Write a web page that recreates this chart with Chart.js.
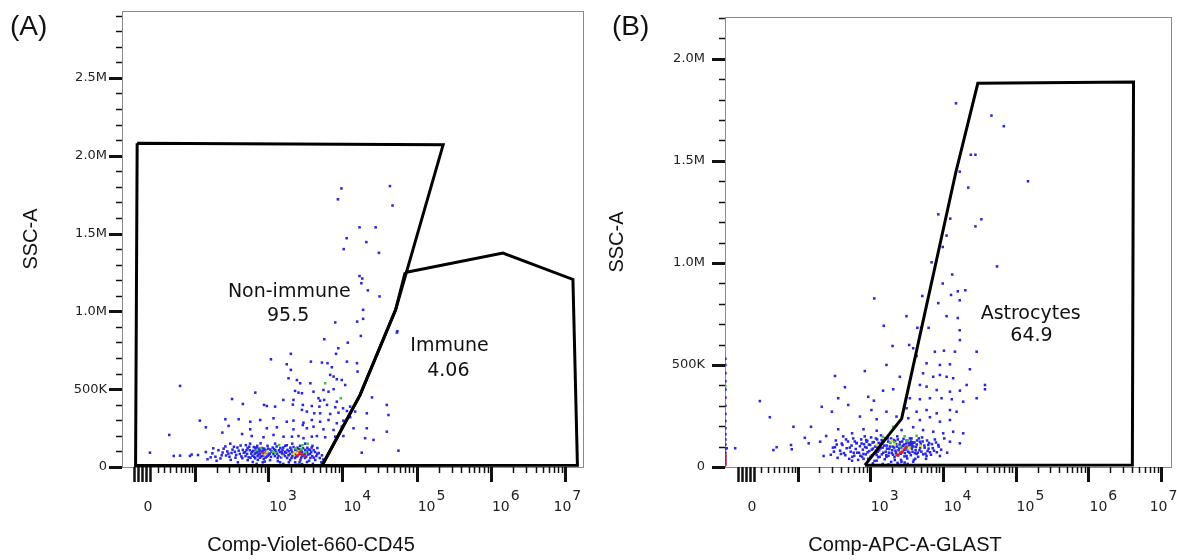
<!DOCTYPE html>
<html>
<head>
<meta charset="utf-8">
<script src="https://cdn.jsdelivr.net/npm/chart.js@4.4.1/dist/chart.umd.min.js"></script>
<style>
  body { margin: 0; background: #fff; }
  #wrap { position: relative; width: 1177px; height: 560px; }
  canvas { position: absolute; top: 0; }
  #chartA { left: 0; }
  #chartB { left: 590px; }
</style>
</head>
<body>
<div id="wrap">
  <canvas id="chartA" width="590" height="560"></canvas>
  <canvas id="chartB" width="587" height="560"></canvas>
</div>
<script>
// ---- axes ----
const xMajorTicks = [1e2, 1e3, 1e4, 1e5, 1e6, 1e7];
const xZeroTicks = [-10, -5, 0, 5, 10];
const xMinorSteps = [2, 3, 4, 5, 6, 7, 8, 9];
const xLabelExps = ['3', '4', '5', '6', '7'];
const yTicksA = [0, 500, 1000, 1500, 2000, 2500];
const yTicksB = [0, 500, 1000, 1500, 2000];

// ---- panel A: Comp-Violet-660-CD45 vs SSC-A (SSC in thousands) ----
const aBlue = [
  [9700, 1790], [43600, 1805], [8700, 1720], [47300, 1680], [17000, 1540], [28000, 1540],
  [11400, 1470], [21000, 1445], [10400, 1400], [31000, 1376], [17000, 1227], [18500, 1211],
  [18000, 1181], [22000, 1135], [31600, 1096], [19000, 1010], [19000, 952], [8000, 929],
  [15800, 934], [55000, 872],
  [5700, 821], [17700, 842], [11800, 799], [54000, 864],
  [8800, 763], [8200, 727], [2020, 727], [1090, 692], [3760, 677], [5300, 671], [6300, 667],
  [11500, 677], [15700, 667], [1780, 660], [7200, 641],
  [2020, 624], [16000, 613], [6840, 592], [7600, 581], [8400, 564], [9800, 559], [1880, 570],
  [2440, 559], [670, 478], [59, 521],
  [2700, 538], [3700, 538], [10900, 527], [2300, 489], [2560, 478], [2850, 474], [4080, 484],
  [5550, 495], [6500, 484], [7600, 500],
  [325, 437], [1600, 431], [2190, 431], [4760, 442], [5010, 426], [5680, 431], [8400, 420],
  [880, 399], [960, 392], [1240, 388], [2150, 401], [2930, 399], [3870, 392], [4900, 388],
  [6200, 399], [8000, 384], [10200, 377], [12700, 388], [456, 405],
  [2850, 367], [3320, 356], [4170, 345], [5010, 345], [6840, 341], [8850, 349], [11500, 360],
  [14860, 356], [21300, 345], [39600, 399], [41700, 334], [25000, 447],
  [117, 298], [264, 307], [400, 307], [573, 291], [780, 302], [1180, 313], [1780, 291],
  [2190, 298], [2990, 285], [3870, 302], [5010, 291], [6500, 302], [8400, 281], [10300, 298],
  [12700, 320],
  [142, 255], [292, 264], [573, 242], [960, 249], [1310, 255], [2190, 242], [2930, 270],
  [3320, 249], [4080, 259], [5550, 242], [7600, 238], [9800, 259], [14100, 249], [21300, 249],
  [39600, 227],
  [38, 206], [240, 221], [445, 212], [600, 199], [865, 191], [1180, 206], [1610, 195],
  [2090, 195], [2560, 199], [2990, 185], [3870, 195], [4530, 199], [5860, 191], [8000, 195],
  [10300, 199], [20200, 185], [26200, 174], [56800, 105], [18200, 92],
  [10, 92], [46, 71], [84, 71], [110, 77], [166, 62], [59, 73], [89, 80], [142, 96], [180, 120],
  [193, 66], [212, 108], [226, 55], [242, 93], [264, 132], [270, 74], [290, 86], [308, 150],
  [312, 46], [330, 112], [355, 98], [362, 60], [385, 125], [390, 30], [415, 84], [425, 138],
  [448, 57], [455, 110],
  [485, 95], [495, 70], [500, 140], [520, 84], [530, 44], [528, 122], [565, 108], [578, 60],
  [570, 150], [605, 98], [615, 72], [620, 32], [660, 86], [672, 124], [665, 56], [680, 110],
  [705, 95], [720, 70], [712, 136], [725, 46], [770, 84], [785, 108], [775, 60], [790, 152],
  [830, 97], [840, 72], [828, 122], [845, 30], [905, 86], [915, 110], [920, 60], [970, 95],
  [980, 136], [985, 72], [1050, 86], [1070, 112], [1060, 44], [745, 100], [880, 118], [640, 128],
  [1130, 96], [1150, 125], [1230, 70], [1250, 108], [1240, 150], [1320, 84], [1340, 58],
  [1440, 96], [1460, 122], [1450, 30], [1540, 84], [1560, 110], [1690, 70], [1700, 136],
  [1680, 98], [1800, 58], [1820, 110], [1960, 84], [1990, 124], [1970, 44],
  [2100, 96], [2120, 70], [2110, 150], [2290, 84], [2320, 110], [2300, 58], [2310, 30],
  [2460, 97], [2480, 124], [2470, 70], [2680, 84], [2700, 110], [2720, 45], [2690, 136],
  [2870, 96], [2890, 70], [2860, 18], [3130, 85], [3160, 110], [3140, 58], [3150, 150],
  [3350, 96], [3370, 124], [3340, 32], [3660, 84], [3700, 58], [3680, 110], [3920, 70],
  [3950, 136], [4280, 96], [4300, 45], [4580, 84], [4600, 122], [4950, 58], [3000, 8],
  [3300, 12], [2500, 14], [5200, 30],
  [150, 50], [175, 88], [200, 40], [235, 75], [250, 118], [280, 100], [300, 66], [320, 90],
  [345, 130], [370, 78], [400, 105], [435, 68], [470, 92], [510, 108], [545, 62], [555, 130],
  [590, 86], [630, 104], [650, 66], [690, 90], [700, 125], [740, 80], [760, 118], [800, 68],
  [815, 96], [860, 106], [870, 52], [890, 78], [940, 102], [950, 66], [1000, 118], [1020, 80],
  [1090, 65], [1110, 100], [1180, 84], [1200, 115], [1280, 96], [1300, 132], [1380, 70],
  [1400, 108], [1500, 62], [1520, 96], [1600, 125], [1620, 80], [1750, 92], [1780, 140],
  [1880, 75], [1900, 102], [2050, 110], [2060, 58], [2180, 88], [2200, 128], [2380, 66],
  [2400, 98], [2560, 82], [2580, 115], [2780, 60], [2800, 100], [2950, 120], [3000, 78],
  [3250, 66], [3250, 98], [3450, 80], [3500, 112], [3800, 95], [3850, 125], [4100, 60],
  [4100, 108], [4450, 70], [4800, 90], [5300, 75], [5500, 48], [2650, 30], [1900, 30],
  [1350, 38], [900, 35], [3550, 40], [4000, 20], [700, 20], [1600, 20]
];
const aGreen = [[5860, 538], [9500, 442], [700, 109], [1400, 141], [2350, 120], [2900, 140], [1150, 100], [3400, 150],
  [800, 120], [1250, 90], [2800, 115], [3200, 95]];
const aYellow = [[960, 98], [2600, 100], [1550, 71], [2200, 85], [2480, 92], [2300, 95], [900, 80]];
const aRed = [[2700, 88], [2500, 75], [850, 92], [3100, 70], [2650, 95], [2850, 80]];
const aGateNonImmune = [[-6, 2080], [227000, 2070], [52000, 1010], [17300, 463], [5330, 10], [-8, 10], [-6, 2080]];
const aGateImmune = [[70000, 1250], [1450000, 1375], [12700000, 1205], [14600000, 12], [5330, 10], [17300, 463], [52000, 1010], [70000, 1250]];

// ---- panel B: Comp-APC-A-GLAST vs SSC-A ----
const bBlue = [
  [15200, 1782], [46600, 1722], [68800, 1670], [24300, 1530], [28100, 1530], [17100, 1447],
  [148000, 1400], [22400, 1369], [8690, 1238], [12700, 1217], [33900, 1214], [28100, 1179],
  [11300, 1134], [10000, 1078], [7030, 1003], [55600, 983], [13500, 943], [10000, 899],
  [1150, 826], [5240, 838], [8690, 803], [13000, 843], [20400, 866], [16100, 861], [17100, 817],
  [3180, 739], [11300, 739], [16100, 730], [1550, 692], [4490, 682], [5050, 682], [6400, 682],
  [17100, 670],
  [2050, 593], [3460, 598], [3930, 582], [4380, 544], [17200, 622], [7800, 565], [10400, 570],
  [14700, 565], [29200, 565], [853, 470], [1690, 500], [6000, 508], [9150, 500], [12560, 503],
  [23600, 479], [331, 446], [2580, 442], [5380, 459], [7410, 442], [9150, 451], [11300, 442],
  [13900, 435], [21300, 402], [38000, 402], [38000, 381], [454, 391], [1520, 374], [2090, 381],
  [4860, 402], [6000, 394], [8260, 377], [12560, 369], [17200, 374], [18, 323], [367, 337],
  [950, 344], [1135, 325], [3540, 337], [4860, 332], [6670, 337], [9640, 337], [13300, 332],
  [19100, 320], [29200, 337], [217, 295], [504, 304], [1050, 279], [1690, 271], [3190, 288],
  [4380, 271], [6000, 279], [8260, 263], [12560, 279], [15500, 271], [33, 244], [300, 271],
  [730, 247], [1240, 234], [2320, 247], [3370, 239], [4860, 230], [6670, 244], [9150, 222],
  [12560, 230], [85, 197], [153, 197], [250, 152], [367, 185], [570, 165], [817, 185],
  [1240, 178], [2720, 181], [3930, 195], [5380, 181], [7410, 173], [10150, 165], [13900, 173],
  [19100, 165], [142, 116], [206, 124], [125, 143], [78, 108], [39, 83], [45, 97], [80, 87],
  [331, 97], [420, 108], [656, 116], [900, 124], [1450, 132], [2090, 132], [3730, 116],
  [4860, 124], [6340, 108], [8690, 108], [12560, 124], [17200, 116], [-26, 92], [-14, 92],
  [400, 64], [600, 70], [817, 64], [1240, 59], [1690, 50], [3190, 54], [4380, 64], [6000, 54],
  [9150, 54], [230, 54], [570, 31], [1240, 31], [2200, 34], [2720, 26], [3930, 26],
  [290, 60], [310, 95], [340, 130], [360, 45], [390, 80], [410, 115], [430, 150], [460, 58],
  [480, 92], [500, 125], [520, 40], [545, 75], [560, 105], [590, 140], [610, 55], [640, 88],
  [660, 118], [690, 35], [710, 70], [730, 102], [760, 135], [780, 50], [800, 85], [830, 112],
  [850, 150],
  [880, 62], [900, 95], [920, 128], [950, 40], [980, 78], [1010, 108], [1040, 145], [1070, 58],
  [1100, 90], [1130, 122], [1160, 30], [1200, 70], [1230, 100], [1260, 135], [1300, 48],
  [1340, 82], [1380, 115], [1420, 155], [1460, 62], [1500, 95], [1550, 128], [1600, 38],
  [1650, 75], [1700, 105], [1750, 140], [1800, 55], [1850, 88], [1900, 118], [1960, 25],
  [2000, 68], [2060, 100], [2120, 132], [2180, 48], [2250, 80], [2300, 112], [2380, 150],
  [2450, 60], [2520, 92], [2600, 122], [2680, 35], [2750, 72], [2830, 104], [2900, 138],
  [2980, 52], [3060, 85], [3150, 115], [3250, 42], [3350, 75], [3450, 105], [3550, 140],
  [3650, 58], [3780, 90], [3900, 120], [4020, 35], [4150, 68], [4300, 98], [4450, 130],
  [4600, 50], [4800, 82], [5000, 112], [5200, 145], [5400, 62], [5650, 95], [5900, 40],
  [6200, 78], [6500, 118], [6900, 60], [7300, 92], [7800, 135], [8300, 72], [8800, 100],
  [9500, 85], [10500, 140], [11500, 70],
  [3600, 112], [3700, 120], [3800, 110], [3750, 105], [3650, 125], [3850, 118],
  [1800, 12], [2600, 10], [3300, 15], [1100, 18],
  [320, 75], [350, 110], [440, 68], [470, 135], [530, 95], [575, 50], [620, 125], [670, 70],
  [740, 55], [770, 115], [820, 40], [860, 98], [890, 132], [930, 72], [970, 110], [1020, 50],
  [1060, 85], [1090, 120], [1150, 65], [1180, 100], [1210, 140], [1280, 75], [1320, 118],
  [1360, 50], [1400, 92], [1480, 125], [1530, 70], [1580, 105], [1620, 140], [1680, 58],
  [1720, 90], [1780, 125], [1830, 70], [1880, 100], [1950, 140], [2030, 82], [2080, 60],
  [2150, 95], [2220, 128], [2280, 70], [2350, 100], [2420, 135], [2480, 82], [2560, 110],
  [2640, 65], [2700, 95], [2780, 125], [2860, 82], [2950, 110], [3020, 68], [3100, 98],
  [3200, 130], [3300, 88], [3400, 118], [3500, 70], [3600, 95], [3720, 140], [3850, 75],
  [3950, 100], [4100, 120], [4250, 82], [4400, 110], [4550, 70], [4700, 140], [4900, 95],
  [5100, 75], [5300, 125], [5600, 105], [5800, 65], [6100, 130], [6400, 90], [6700, 72],
  [7100, 112], [7600, 80], [8100, 120], [2400, 20], [3000, 22], [1500, 15], [4200, 40],
  [-28, 18], [-28, 35], [-28, 52], [-28, 70], [-28, 88], [-28, 110], [-28, 135], [-28, 160],
  [-28, 190], [-28, 225], [-28, 260], [-28, 300], [-28, 340], [-28, 380], [-28, 420],
  [-28, 460], [-28, 500], [-28, 530]
];
const bGreen = [[2090, 197], [1510, 148], [2160, 122], [4370, 153], [1300, 95], [3000, 150], [-28, 397],
  [1900, 120], [2600, 100], [3300, 130]];
const bYellow = [[1240, 108], [2730, 83], [4900, 104], [2000, 130], [3400, 90], [2200, 110], [3500, 95]];
const bRed = [[3190, 100], [2320, 59], [2430, 56], [2800, 75], [3000, 90], [2600, 70],
  [-28, 10], [-28, 25], [-28, 45], [-28, 60]];
const bGateAstro = [[855, 9], [2730, 237], [15100, 1443], [30300, 1880], [4150000, 1887], [4000000, 10], [855, 9]];

// gate names and frequencies, anchored in data units
const aGateText = [
  ['Non-immune', 1925, 1124], ['95.5', 1860, 968],
  ['Immune', 277000, 780], ['4.06', 267000, 619]
];
const bGateText = [['Astrocytes', 161000, 751], ['64.9', 165000, 643]];

// ---- biexponential-like axis (asinh) ----
const BIEX_W = 40;
class BiexScale extends Chart.Scale {
  determineDataLimits() {
    this.min = this.options.min;
    this.max = this.options.max;
  }
  buildTicks() {
    return xMajorTicks.map(v => ({ value: v }));
  }
  getLabelForValue(v) { return String(v); }
  configure() {
    super.configure();
    this._t0 = Math.asinh(this.min / BIEX_W);
    this._t1 = Math.asinh(this.max / BIEX_W);
  }
  getPixelForValue(v) {
    return this.getPixelForDecimal((Math.asinh(v / BIEX_W) - this._t0) / (this._t1 - this._t0));
  }
  getValueForPixel(p) {
    return BIEX_W * Math.sinh(this._t0 + this.getDecimalForPixel(p) * (this._t1 - this._t0));
  }
}
BiexScale.id = 'biex';
BiexScale.defaults = {};
Chart.register(BiexScale);

const pts = arr => arr.map(([x, y]) => ({ x, y }));

const panels = {
  chartA: {
    letter: '(A)', letterX: 10, xTitle: 'Comp-Violet-660-CD45', xTitleX: 311, yTitleX: 31,
    gateText: aGateText
  },
  chartB: {
    letter: '(B)', letterX: 22, xTitle: 'Comp-APC-A-GLAST', xTitleX: 315, yTitleX: 27,
    gateText: bGateText
  }
};

const decor = {
  id: 'decor',
  beforeDatasetsDraw(chart) {
    const { ctx, chartArea: a } = chart;
    ctx.save();
    ctx.strokeStyle = '#8a8a8a';
    ctx.lineWidth = 1;
    ctx.strokeRect(a.left + 0.5, a.top + 0.5, a.right - a.left - 1, a.bottom - a.top);
    ctx.restore();
  },
  afterDraw(chart) {
    const p = panels[chart.canvas.id];
    const { ctx, chartArea: a, scales: { x, y } } = chart;
    ctx.save();
    ctx.strokeStyle = '#111';
    ctx.lineCap = 'butt';

    // y ticks: 100K minor, 500K major
    for (let v = 0; v <= y.max; v += 100) {
      const py = Math.round(y.getPixelForValue(v)) + 0.5;
      const major = v % 500 === 0;
      ctx.lineWidth = major ? 3 : 1.5;
      ctx.beginPath();
      ctx.moveTo(a.left - (major ? 13 : 6), py);
      ctx.lineTo(a.left, py);
      ctx.stroke();
    }

    // x ticks
    const tick = (v, len, w) => {
      if (v < x.min || v > x.max) return;
      const px = Math.round(x.getPixelForValue(v)) + 0.5;
      ctx.lineWidth = w;
      ctx.beginPath();
      ctx.moveTo(px, a.bottom);
      ctx.lineTo(px, a.bottom + len);
      ctx.stroke();
    };
    for (let e = 1; e <= 6; e++) xMinorSteps.forEach(k => tick(k * 10 ** e, 6, 1.5));
    xZeroTicks.forEach(v => tick(v, 15, 2.5));
    xMajorTicks.forEach(v => tick(v, 15, 3));

    // x labels
    ctx.fillStyle = '#222';
    ctx.font = '14px "DejaVu Sans"';
    ctx.textBaseline = 'alphabetic';
    ctx.textAlign = 'center';
    ctx.fillText('0', x.getPixelForValue(0) + 6, 511);
    ctx.textAlign = 'left';
    xLabelExps.forEach((ex, i) => {
      const tp = x.getPixelForValue(10 ** Number(ex));
      const w1 = ctx.measureText('10').width, w2 = ctx.measureText(ex).width;
      const left = i === xLabelExps.length - 1 ? tp + 16 - w1 - w2 - 1 : tp + 1;
      ctx.fillText('10', left, 511);
      ctx.fillText(ex, left + w1 + 1, 500);
    });

    // gate names
    ctx.font = '19px "DejaVu Sans"';
    ctx.textAlign = 'center';
    ctx.textBaseline = 'middle';
    ctx.fillStyle = '#111';
    p.gateText.forEach(([t, vx, vy]) => ctx.fillText(t, x.getPixelForValue(vx), y.getPixelForValue(vy)));

    // axis titles and panel letter
    ctx.font = '20px "Liberation Sans"';
    ctx.fillText(p.xTitle, p.xTitleX, 545);
    ctx.save();
    ctx.translate(p.yTitleX, (a.top + a.bottom) / 2);
    ctx.rotate(-Math.PI / 2);
    ctx.fillText('SSC-A', 0, 0);
    ctx.restore();
    ctx.font = '28px "Liberation Sans"';
    ctx.textAlign = 'left';
    ctx.textBaseline = 'alphabetic';
    ctx.fillText(p.letter, p.letterX, 35);
    ctx.restore();
  }
};

const dotSet = (data, color) => ({
  data: pts(data),
  backgroundColor: color,
  borderWidth: 0,
  pointStyle: 'rect',
  pointRadius: 1.8,
  pointHoverRadius: 0
});
const gateSet = data => ({
  data: pts(data),
  showLine: true,
  borderColor: '#000',
  borderWidth: 3,
  borderJoinStyle: 'miter',
  pointRadius: 0,
  fill: false,
  tension: 0
});

function makeChart(id, cfg) {
  new Chart(document.getElementById(id), {
    type: 'scatter',
    data: { datasets: cfg.datasets },
    options: {
      responsive: false,
      animation: false,
      events: [],
      layout: { padding: { left: 0, right: cfg.padRight, top: cfg.padTop, bottom: 0 } },
      plugins: { legend: { display: false }, tooltip: { enabled: false } },
      scales: {
        x: {
          type: 'biex',
          min: cfg.xMin,
          max: cfg.xMax,
          grid: { display: false, drawTicks: false },
          border: { display: false },
          ticks: { display: false },
          afterFit: s => { s.height = 93; s.paddingLeft = 0; s.paddingRight = 0; }
        },
        y: {
          type: 'linear',
          min: 0,
          max: cfg.yMax,
          grid: { display: false, drawTicks: false },
          border: { display: false },
          afterBuildTicks: s => { s.ticks = cfg.yTicks.map(v => ({ value: v })); },
          ticks: {
            padding: cfg.yPad,
            color: '#222',
            font: { family: 'DejaVu Sans', size: 13 },
            callback: v => v === 0 ? '0' : v < 1000 ? v + 'K' : (v / 1000).toFixed(1) + 'M'
          },
          afterFit: s => { s.width = cfg.yWidth; s.paddingTop = 0; s.paddingBottom = 0; }
        }
      }
    },
    plugins: [decor]
  });
}

makeChart('chartA', {
  padRight: 6, padTop: 11, yWidth: 122, yPad: 15, yMax: 2930, yTicks: yTicksA,
  xMin: -26.4, xMax: 1.79e7,
  datasets: [
    gateSet(aGateNonImmune), gateSet(aGateImmune),
    dotSet(aRed, 'rgb(230,30,30)'), dotSet(aYellow, 'rgb(235,220,40)'),
    dotSet(aGreen, 'rgb(60,200,60)'), dotSet(aBlue, 'rgb(40,40,225)')
  ]
});

makeChart('chartB', {
  padRight: 5, padTop: 17, yWidth: 135, yPad: 20, yMax: 2205, yTicks: yTicksB,
  xMin: -28.6, xMax: 1.4e7,
  datasets: [
    gateSet(bGateAstro),
    dotSet(bRed, 'rgb(230,30,30)'), dotSet(bYellow, 'rgb(235,220,40)'),
    dotSet(bGreen, 'rgb(60,200,60)'), dotSet(bBlue, 'rgb(40,40,225)')
  ]
});
</script>
</body>
</html>
